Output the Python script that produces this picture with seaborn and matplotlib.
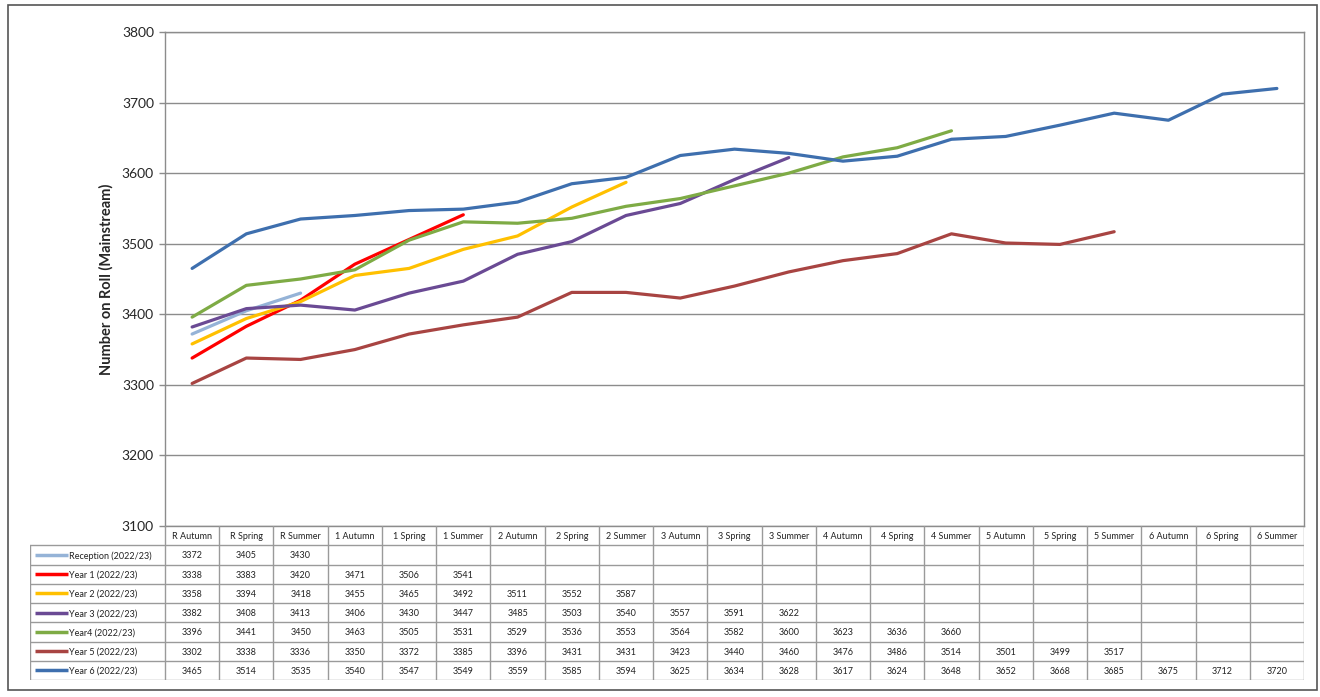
import pandas as pd
import numpy as np
import matplotlib.pyplot as plt
import seaborn as sns
from matplotlib.patches import Rectangle

# Data
terms = ['R Autumn', 'R Spring', 'R Summer', '1 Autumn', '1 Spring', '1 Summer',
         '2 Autumn', '2 Spring', '2 Summer', '3 Autumn', '3 Spring', '3 Summer',
         '4 Autumn', '4 Spring', '4 Summer', '5 Autumn', '5 Spring', '5 Summer',
         '6 Autumn', '6 Spring', '6 Summer']

reception = [3372, 3405, 3430]
year1 = [3338, 3383, 3420, 3471, 3506, 3541]
year2 = [3358, 3394, 3418, 3455, 3465, 3492, 3511, 3552, 3587]
year3 = [3382, 3408, 3413, 3406, 3430, 3447, 3485, 3503, 3540, 3557, 3591, 3622]
year4 = [3396, 3441, 3450, 3463, 3505, 3531, 3529, 3536, 3553, 3564, 3582, 3600,
         3623, 3636, 3660]
year5 = [3302, 3338, 3336, 3350, 3372, 3385, 3396, 3431, 3431, 3423, 3440, 3460,
         3476, 3486, 3514, 3501, 3499, 3517]
year6 = [3465, 3514, 3535, 3540, 3547, 3549, 3559, 3585, 3594, 3625, 3634, 3628,
         3617, 3624, 3648, 3652, 3668, 3685, 3675, 3712, 3720]

series_names = ['Reception (2022/23)', 'Year 1 (2022/23)', 'Year 2 (2022/23)',
                'Year 3 (2022/23)', 'Year4 (2022/23)', 'Year 5 (2022/23)',
                'Year 6 (2022/23)']
series_values = [reception, year1, year2, year3, year4, year5, year6]
colors = ['#95b3d7', '#ff0000', '#ffc000', '#6a4a94', '#7eab45', '#a84442', '#3e6fae']

# Long-form table for seaborn
rows = []
for name, vals in zip(series_names, series_values):
    for i, v in enumerate(vals):
        rows.append({'series': name, 'idx': i, 'value': v})
df = pd.DataFrame(rows)

sns.set_style('white')
plt.rcParams['font.family'] = ['Lato', 'DejaVu Sans']

fig = plt.figure(figsize=(13.2, 6.97), dpi=100)
W, H = 1320, 697

# Main chart
ax = fig.add_axes([165 / W, 1 - 526 / H, (1304 - 165) / W, (526 - 32) / H])
sns.lineplot(data=df, x='idx', y='value', hue='series', hue_order=series_names,
             palette=dict(zip(series_names, colors)), linewidth=2.3,
             legend=False, ax=ax, sort=True)
ax.set_xlim(-0.5, len(terms) - 0.5)
ax.set_ylim(3100, 3800)
ax.set_yticks(np.arange(3100, 3801, 100))
ax.set_xticks([])
ax.set_xlabel('')
ax.set_ylabel('Number on Roll (Mainstream)', fontsize=10.5, fontweight='bold', labelpad=6)
ax.yaxis.grid(True, color='#8c8c8c', linewidth=1)
ax.tick_params(axis='y', labelsize=10, length=4, width=1, color='#8c8c8c', left=True, pad=4)
for s in ax.spines.values():
    s.set_color('#8c8c8c')
    s.set_linewidth(1)

# Data table under the chart
tx0 = 30
cat_w = (1304 - 165) / len(terms)
left_units = (165 - tx0) / cat_w
tax = fig.add_axes([tx0 / W, 1 - 680 / H, (1304 - tx0) / W, (680 - 526) / H])
xl = -0.5 - left_units
tax.set_xlim(xl, len(terms) - 0.5)
tax.set_ylim(len(series_names) + 1, 0)
tax.axis('off')

grid_c = '#9a9a9a'
for j in range(len(terms) + 1):
    tax.plot([j - 0.5, j - 0.5], [0, len(series_names) + 1], color=grid_c, lw=1)
tax.plot([xl, xl], [1, len(series_names) + 1], color=grid_c, lw=1)
for r in range(1, len(series_names) + 2):
    tax.plot([xl, len(terms) - 0.5], [r, r], color=grid_c, lw=1)

for j, t in enumerate(terms):
    tax.text(j, 0.55, t, ha='center', va='center', fontsize=6.5, color='#222222')

for r, (name, vals, c) in enumerate(zip(series_names, series_values, colors)):
    yy = r + 1.55
    tax.plot([xl + 0.1, xl + 0.7], [yy - 0.05, yy - 0.05], color=c, lw=2.5,
             solid_capstyle='butt')
    tax.text(xl + 0.72, yy, name, ha='left', va='center', fontsize=6.5, color='#222222')
    for j, v in enumerate(vals):
        tax.text(j, yy, str(v), ha='center', va='center', fontsize=6.5, color='#222222')

# Outer frame
fig.patches.append(Rectangle((8 / W, 1 - 690 / H), (1317 - 8) / W, (690 - 5) / H,
                             transform=fig.transFigure, fill=False,
                             edgecolor='#555555', linewidth=1.2))

fig.savefig('out.png', dpi=100)
